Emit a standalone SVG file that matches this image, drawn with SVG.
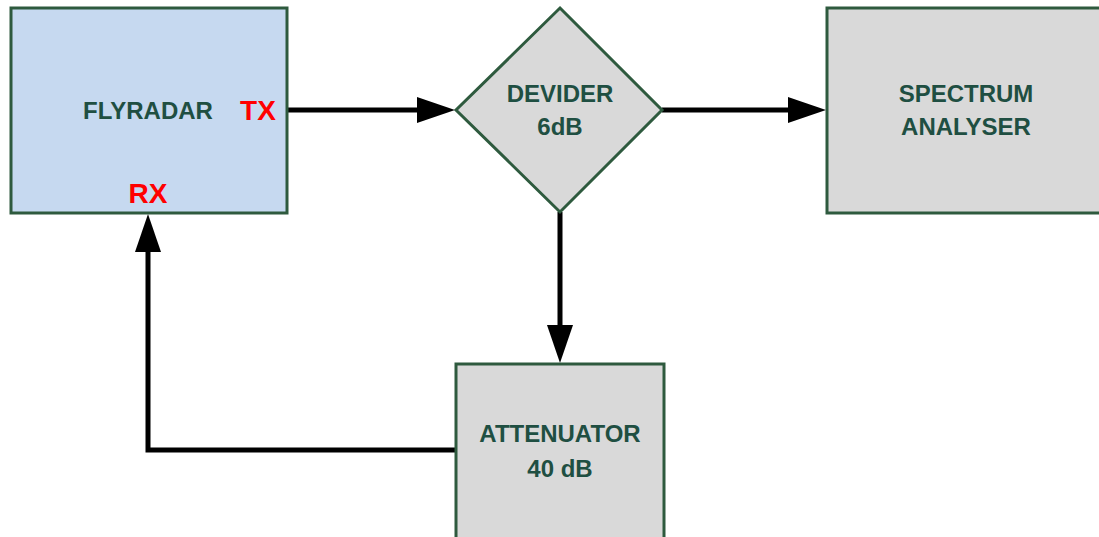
<svg xmlns="http://www.w3.org/2000/svg" width="1099" height="537" viewBox="0 0 1099 537">
<style>
.node{stroke:#2e5a3e;stroke-width:3}
.lbl{font-family:"Liberation Sans",Arial,sans-serif;font-weight:bold;font-size:24px;fill:#1f4f42;text-anchor:middle}
.port{font-family:"Liberation Sans",Arial,sans-serif;font-weight:bold;font-size:28px;fill:#ff0000;text-anchor:middle}
.wire{stroke:#000;stroke-width:5;fill:none}
</style>
<defs>
<marker id="ah" markerUnits="userSpaceOnUse" markerWidth="40" markerHeight="28" refX="28" refY="13" orient="auto" viewBox="0 0 40 26">
<path d="M0,0 L38,13 L0,26 Z" fill="#000"/>
</marker>
</defs>
<rect width="1099" height="537" fill="#fff"/>
<g id="connectors">
<line class="wire" x1="287" y1="110" x2="445" y2="110" marker-end="url(#ah)"/>
<line class="wire" x1="662" y1="110" x2="816" y2="110" marker-end="url(#ah)"/>
<line class="wire" x1="560" y1="212" x2="560" y2="353" marker-end="url(#ah)"/>
<polyline class="wire" points="456,450 148,450 148,224" marker-end="url(#ah)"/>
</g>
<g id="flyradar">
<rect class="node" x="11" y="8" width="276" height="205" fill="#c6d9f0"/>
<text class="lbl" x="148" y="119">FLYRADAR</text>
<text class="port" x="258" y="120">TX</text>
<text class="port" x="148" y="203">RX</text>
</g>
<g id="divider">
<polygon class="node" points="560,8 662,110 560,212 456,110" fill="#d9d9d9"/>
<text class="lbl" x="560" y="102">DEVIDER</text>
<text class="lbl" x="560" y="135">6dB</text>
</g>
<g id="spectrum">
<rect class="node" x="827" y="8" width="290" height="205" fill="#d9d9d9"/>
<text class="lbl" x="966" y="102">SPECTRUM</text>
<text class="lbl" x="966" y="135">ANALYSER</text>
</g>
<g id="attenuator">
<rect class="node" x="456" y="364" width="208" height="200" fill="#d9d9d9"/>
<text class="lbl" x="560" y="442">ATTENUATOR</text>
<text class="lbl" x="560" y="477">40 dB</text>
</g>
</svg>
